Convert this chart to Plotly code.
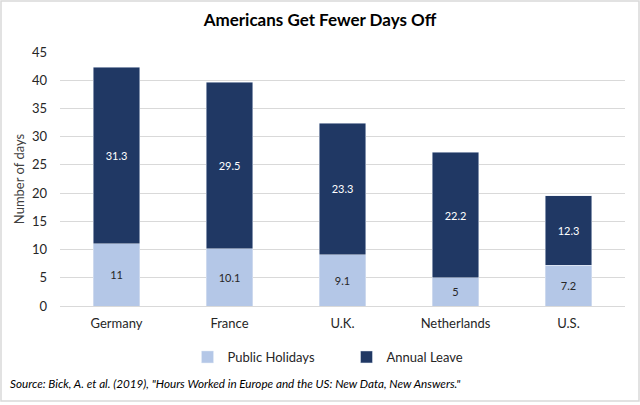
import plotly.graph_objects as go

countries = ["Germany", "France", "U.K.", "Netherlands", "U.S."]
public_holidays = [11, 10.1, 9.1, 5, 7.2]
annual_leave = [31.3, 29.5, 23.3, 22.2, 12.3]
y_ticks = [0, 5, 10, 15, 20, 25, 30, 35, 40, 45]

FONT = "Lato, Calibri, Carlito, sans-serif"
W, H = 640, 405
ML, MR, MT, MB = 60, 15, 52, 99
PW, PH = W - ML - MR, H - MT - MB


def px_x(px):
    return (px - ML) / PW


def px_y(py):
    return (H - MB - py) / PH


fig = go.Figure()
fig.add_trace(go.Bar(
    x=countries, y=public_holidays, name="Public Holidays",
    marker=dict(color="#b4c7e7"),
    text=[f"{v:g}" for v in public_holidays], textposition="inside",
    insidetextanchor="middle", textfont=dict(color="#262626", size=11, family=FONT),
    textangle=0,
))
fig.add_trace(go.Bar(
    x=countries, y=annual_leave, name="Annual Leave",
    marker=dict(color="#203864"),
    text=[f"{v:g}" for v in annual_leave], textposition="inside",
    insidetextanchor="middle", textfont=dict(color="white", size=11, family=FONT),
    textangle=0,
))

fig.update_layout(
    barmode="stack",
    bargap=0.59,
    width=W, height=H,
    paper_bgcolor="white", plot_bgcolor="white",
    font=dict(family=FONT, color="#404040", size=13),
    title=dict(text="<b>Americans Get Fewer Days Off</b>", x=0.5, xanchor="center",
               y=1 - 20 / H, yanchor="middle", font=dict(size=17, color="black", family=FONT)),
    margin=dict(l=ML, r=MR, t=MT, b=MB, autoexpand=False),
    showlegend=True,
    legend=dict(orientation="h", x=0.5 + 4 / PW, xanchor="center", y=px_y(342), yanchor="top",
                font=dict(size=13, color="#262626"), itemwidth=30,
                traceorder="normal", entrywidthmode="pixels", entrywidth=114),
    uniformtext=dict(minsize=8, mode="show"),
)
fig.update_yaxes(
    range=[0, 45], tickvals=y_ticks, showgrid=True, gridcolor="#d9d9d9",
    zeroline=False, showline=False, ticks="", ticklen=0, automargin=False,
    tickfont=dict(size=13, color="#262626"), ticklabelstandoff=12,
    title=dict(text="Number of days", font=dict(size=13, color="#404040"), standoff=4),
)
fig.update_xaxes(
    showline=True, linecolor="#d9d9d9", linewidth=1, ticks="", automargin=False,
    tickfont=dict(size=13, color="#262626"), ticklabelstandoff=5,
)

fig.add_annotation(
    text="<i>Source: Bick, A. et al. (2019), \"Hours Worked in Europe and the US: New Data, New Answers.\"</i>",
    xref="paper", yref="paper", x=px_x(8), y=px_y(383), xanchor="left", yanchor="middle",
    showarrow=False, font=dict(size=11.7, color="black", family=FONT),
)
fig.add_shape(type="rect", xref="paper", yref="paper",
              x0=px_x(1), x1=px_x(W - 1), y0=px_y(H - 4), y1=px_y(1),
              line=dict(color="#d9d9d9", width=1.5))

fig.write_html("out.html", config={"displayModeBar": False},
               post_script="document.body.style.margin='0';document.body.style.overflow='hidden';")
